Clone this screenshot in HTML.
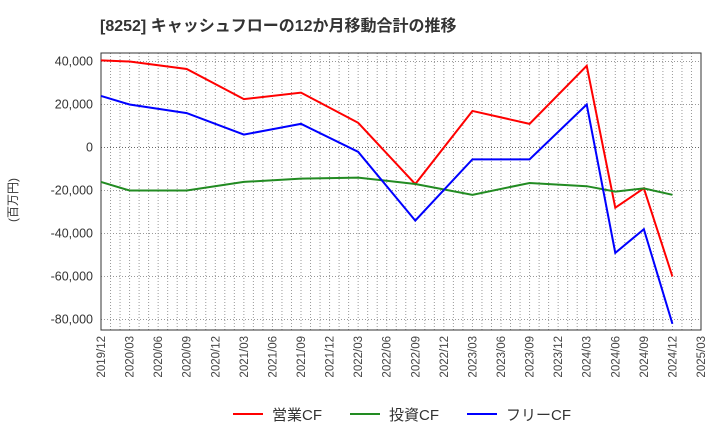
<!DOCTYPE html>
<html><head><meta charset="utf-8"><style>
body{margin:0;background:#fff;font-family:"Liberation Sans","Noto Sans CJK JP",sans-serif}
</style></head><body>
<svg id="c" width="720" height="440" xmlns="http://www.w3.org/2000/svg">
<text x="100" y="31" font-size="16" font-weight="bold" fill="#333">[8252]  キャッシュフローの12か月移動合計の推移</text>
<text transform="translate(17,200) rotate(-90)" font-size="12" fill="#333" text-anchor="middle">(百万円)</text>
<g id="grid"></g><g id="axes"></g><g id="series"></g>
<g>
<line x1="233" y1="414" x2="263" y2="414" stroke="#f00" stroke-width="2"/><text x="272" y="420" font-size="15" fill="#333">営業CF</text>
<line x1="350" y1="414" x2="380" y2="414" stroke="#228b22" stroke-width="2"/><text x="389" y="420" font-size="15" fill="#333">投資CF</text>
<line x1="467" y1="414" x2="497" y2="414" stroke="#00f" stroke-width="2"/><text x="506" y="420" font-size="15" fill="#333">フリーCF</text>
</g>
</svg>
<script>
const xLabels=["2019/12","2020/03","2020/06","2020/09","2020/12","2021/03","2021/06","2021/09","2021/12","2022/03","2022/06","2022/09","2022/12","2023/03","2023/06","2023/09","2023/12","2024/03","2024/06","2024/09","2024/12","2025/03"];
const yTicks=[40000,20000,0,-20000,-40000,-60000,-80000];
const idx=[0,1,3,5,7,9,11,13,15,17,18,19,20];
const opCF=[40500,40000,36500,22500,25500,11500,-17000,17000,11000,38000,-28000,-19000,-60000];
const invCF=[-16000,-20000,-20000,-16000,-14500,-14000,-17000,-22000,-16500,-18000,-20500,-19000,-22000];
const freeCF=[24000,20000,16000,6000,11000,-2000,-34000,-5500,-5500,20000,-49000,-38000,-82000];
const L=101,R=701,T=53,B=330;
const X=i=>L+i*(R-L)/21;
const Y=v=>61.5+(40000-v)*258/120000;
const NS="http://www.w3.org/2000/svg";
function mk(t,a,p){const e=document.createElementNS(NS,t);for(const k in a)e.setAttribute(k,a[k]);p.appendChild(e);return e;}
const g=document.getElementById('grid'),ax=document.getElementById('axes'),s=document.getElementById('series');
for(let m=1;m<63;m++){const x=L+m*(R-L)/63;const l=mk('line',{x1:x,x2:x,y1:T,y2:B,stroke:'#999','stroke-dasharray':'1,2','stroke-width':1},g);}
yTicks.forEach(v=>{const y=Y(v);const l=mk('line',{x1:L,x2:R,y1:y,y2:y,stroke:v===0?'#666':'#999','stroke-dasharray':'1,2'},g);
const t=mk('text',{x:L-8,y:y+4,'font-size':12.5,fill:'#333','text-anchor':'end'},ax);t.textContent=v.toLocaleString('en-US');});
const fr=mk('rect',{x:L,y:T,width:R-L,height:B-T,fill:'none',stroke:'#333'},ax);
xLabels.forEach((lb,i)=>{const x=X(i);const t=mk('text',{transform:`translate(${x+4},${B+6}) rotate(-90)`,'font-size':11.5,fill:'#444','text-anchor':'end'},ax);t.textContent=lb;});
[[opCF,'#f00','operating-cf-line'],[invCF,'#228b22','investing-cf-line'],[freeCF,'#00f','free-cf-line']].forEach(([d,c,n])=>{
const p=mk('polyline',{points:d.map((v,k)=>X(idx[k])+','+Y(v)).join(' '),fill:'none',stroke:c,'stroke-width':2},s);});
</script>
</body></html>
